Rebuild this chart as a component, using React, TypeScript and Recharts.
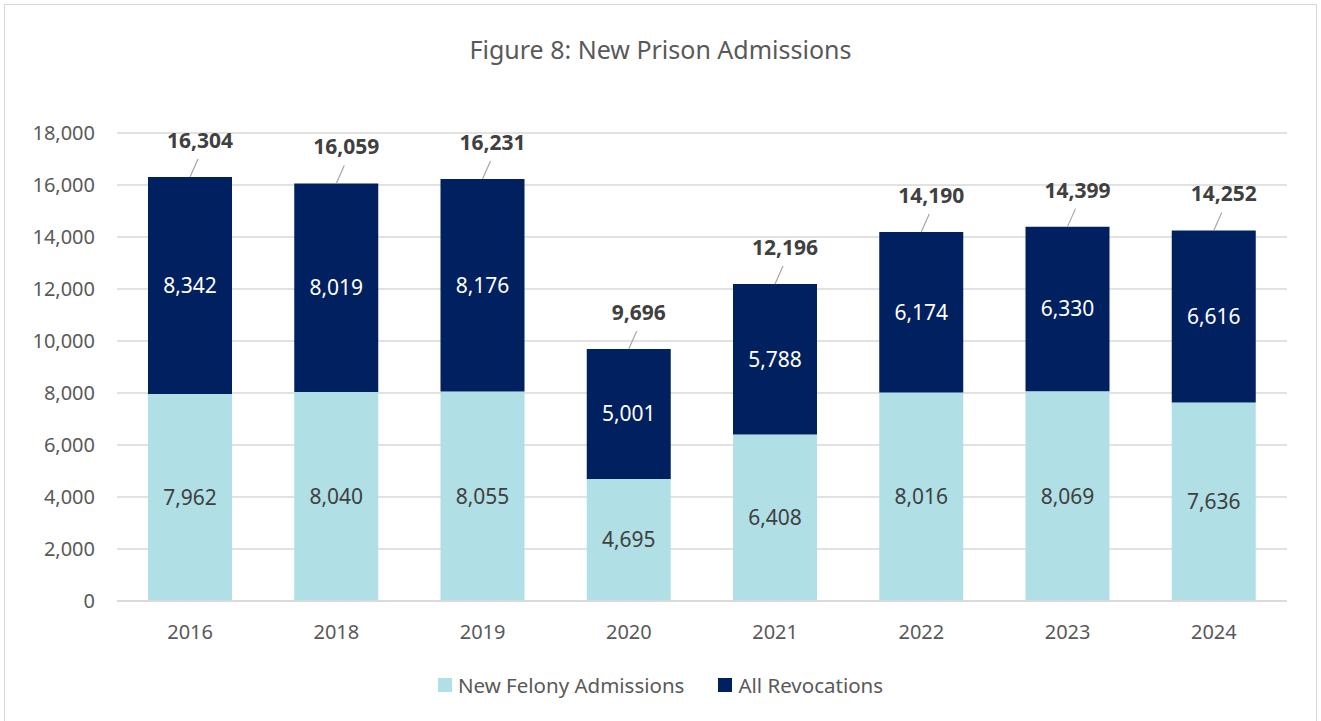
import { BarChart, Bar, XAxis, YAxis, CartesianGrid, LabelList } from "recharts";

const years = ["2016", "2018", "2019", "2020", "2021", "2022", "2023", "2024"];
const newFelony = [7962, 8040, 8055, 4695, 6408, 8016, 8069, 7636];
const revocations = [8342, 8019, 8176, 5001, 5788, 6174, 6330, 6616];
const totals = [16304, 16059, 16231, 9696, 12196, 14190, 14399, 14252];
const yTicks = [0, 2000, 4000, 6000, 8000, 10000, 12000, 14000, 16000, 18000];

const data = years.map((year, i) => ({
    year,
    newFelony: newFelony[i],
    revocations: revocations[i],
    total: totals[i],
}));

const FONT = "'Noto Sans', 'Open Sans', sans-serif";
const LIGHT = "#b0dfe5";
const DARK = "#002060";
const TEXT = "#595959";

const fmt = (v: number) => Number(v).toLocaleString("en-US");

// total label above each stack, with a small leader line like the excel original
const TotalLabel = (props: any) => {
    const { x, y, width, value } = props;
    const cx = x + width / 2;
    return (
        <g>
            <line x1={cx} y1={y} x2={cx + 8} y2={y - 18} stroke="#a6a6a6" strokeWidth={1.2} />
            <text
                x={cx + 10}
                y={y - 29}
                textAnchor="middle"
                fontFamily={FONT}
                fontSize={21}
                fontWeight={700}
                fill="#404040"
            >
                {fmt(value)}
            </text>
        </g>
    );
};

export default function App() {
    return (
        <div style={{ position: "absolute", left: 0, top: 0, width: 1321, height: 721, background: "#fff" }}>
            <div
                style={{
                    position: "absolute",
                    left: 4,
                    top: 4,
                    width: 1311,
                    height: 716,
                    border: "1px solid #d9d9d9",
                }}
            />
            <div
                style={{
                    position: "absolute",
                    left: 0,
                    top: 32,
                    width: 1321,
                    textAlign: "center",
                    fontFamily: FONT,
                    fontSize: 25,
                    color: TEXT,
                }}
            >
                Figure 8: New Prison Admissions
            </div>
            <BarChart
                width={1321}
                height={721}
                data={data}
                margin={{ top: 133, right: 34, bottom: 90, left: 0 }}
                barSize={84}
                style={{ position: "absolute", left: 0, top: 0 }}
            >
                <CartesianGrid vertical={false} stroke="#d9d9d9" strokeWidth={1.5} />
                <XAxis
                    dataKey="year"
                    height={30}
                    axisLine={{ stroke: "#d9d9d9", strokeWidth: 1.5 }}
                    tickLine={false}
                    tickSize={0}
                    tickMargin={24}
                    tick={{ fontFamily: FONT, fontSize: 20, fill: TEXT }}
                />
                <YAxis
                    width={117}
                    domain={[0, 18000]}
                    ticks={yTicks}
                    axisLine={false}
                    tickLine={false}
                    tickSize={0}
                    tickMargin={22}
                    tickFormatter={fmt}
                    tick={{ fontFamily: FONT, fontSize: 20, fill: TEXT }}
                />
                <Bar dataKey="newFelony" stackId="a" fill={LIGHT} isAnimationActive={false}>
                    <LabelList
                        dataKey="newFelony"
                        position="center"
                        formatter={fmt as any}
                        style={{ fontFamily: FONT, fontSize: 21, fill: "#404040" }}
                    />
                </Bar>
                <Bar dataKey="revocations" stackId="a" fill={DARK} isAnimationActive={false}>
                    <LabelList
                        dataKey="revocations"
                        position="center"
                        formatter={fmt as any}
                        style={{ fontFamily: FONT, fontSize: 21, fill: "#ffffff" }}
                    />
                    <LabelList dataKey="total" content={<TotalLabel />} />
                </Bar>
            </BarChart>
            <div
                style={{
                    position: "absolute",
                    left: 0,
                    top: 671,
                    width: 1321,
                    display: "flex",
                    justifyContent: "center",
                    gap: 34,
                    fontFamily: FONT,
                    fontSize: 20.5,
                    color: TEXT,
                }}
            >
                <span style={{ display: "flex", alignItems: "center" }}>
                    <span style={{ width: 14, height: 14, background: LIGHT, marginRight: 6 }} />
                    New Felony Admissions
                </span>
                <span style={{ display: "flex", alignItems: "center" }}>
                    <span style={{ width: 14, height: 14, background: DARK, marginRight: 6 }} />
                    All Revocations
                </span>
            </div>
        </div>
    );
}
